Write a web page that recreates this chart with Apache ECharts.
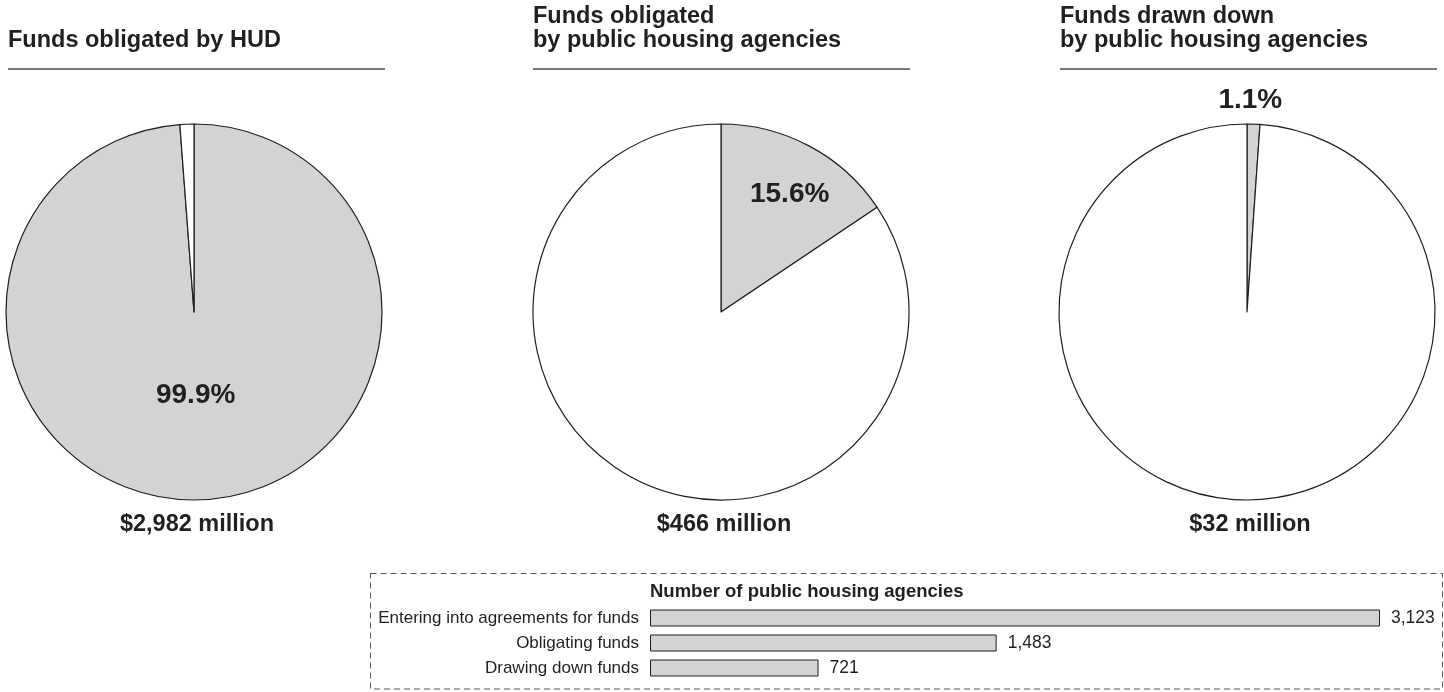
<!DOCTYPE html>
<html>
<head>
<meta charset="utf-8">
<script src="https://cdn.jsdelivr.net/npm/echarts@6/dist/echarts.min.js"></script>
<style>
html,body{margin:0;padding:0;background:#fff;}
#chart{width:1444px;height:692px;}
</style>
</head>
<body>
<div id="chart"></div>
<script>
// ---- data ----
const pieTitles = [
  "Funds obligated by HUD",
  "Funds obligated\nby public housing agencies",
  "Funds drawn down\nby public housing agencies"
];
const pieTotals = ["$2,982 million", "$466 million", "$32 million"];
const pieLabels = ["99.9%", "15.6%", "1.1%"];
// shaded share / unshaded share as drawn (percent)
const pieShaded = [98.8, 15.6, 1.1];
const pieUnshaded = [1.2, 84.4, 98.9];

const barTitle = "Number of public housing agencies";
const barCategories = ["Entering into agreements for funds", "Obligating funds", "Drawing down funds"];
const barValues = [3123, 1483, 721];

// ---- styling ----
const INK = '#231f20';
const GRAY = '#d1d3d4';
const FONT = '"Liberation Sans", Arial, Helvetica, sans-serif';
const centersX = [194, 721, 1247];
const titleX = [8, 533, 1060];
const labelShift = [[-2, -14], [23, -32], [0, -115]];

const chart = echarts.init(document.getElementById('chart'), null, {renderer: 'canvas'});

const series = [];
for (let i = 0; i < 3; i++) {
  series.push({
    type: 'pie',
    center: [centersX[i], 312],
    radius: [0, 188],
    startAngle: 90,
    clockwise: true,
    silent: true,
    animation: false,
    label: {
      show: true, position: 'inside', color: INK,
      fontFamily: FONT, fontWeight: 'bold', fontSize: 28,
      formatter: () => pieLabels[i]
    },
    labelLine: {show: false},
    labelLayout: {dx: labelShift[i][0], dy: labelShift[i][1]},
    itemStyle: {borderColor: INK, borderWidth: 1.2},
    data: [
      {value: pieShaded[i], itemStyle: {color: GRAY}},
      {value: pieUnshaded[i], itemStyle: {color: '#ffffff'}, label: {show: false}}
    ]
  });
}

series.push({
  type: 'bar',
  xAxisIndex: 0, yAxisIndex: 0,
  barWidth: 17,
  animation: false,
  silent: true,
  itemStyle: {color: GRAY, borderColor: INK, borderWidth: 1},
  label: {
    show: true, position: 'right', distance: 11, color: INK,
    fontFamily: FONT, fontSize: 17.5,
    formatter: p => p.value.toLocaleString('en-US')
  },
  data: barValues
});

const graphics = [];
for (let i = 0; i < 3; i++) {
  graphics.push({
    type: 'text', left: titleX[i], top: i === 0 ? 29 : 5, silent: true,
    style: {text: pieTitles[i], fill: INK, font: 'bold 23.5px ' + FONT, lineHeight: 23.5}
  });
  graphics.push({
    type: 'line', silent: true,
    shape: {x1: titleX[i], y1: 69, x2: titleX[i] + 377, y2: 69},
    style: {stroke: '#4d4d4d', lineWidth: 1.3}
  });
  graphics.push({
    type: 'text', silent: true, x: centersX[i] + 3, y: 525,
    style: {text: pieTotals[i], fill: INK, font: 'bold 23.5px ' + FONT, textAlign: 'center', textVerticalAlign: 'middle'}
  });
}
graphics.push({
  type: 'rect', silent: true,
  shape: {x: 370.5, y: 573.5, width: 1072, height: 115.5},
  style: {fill: 'none', stroke: '#555', lineWidth: 1, lineDash: [6, 4]}
});
graphics.push({
  type: 'text', silent: true, x: 650, y: 592,
  style: {text: barTitle, fill: INK, font: 'bold 18.5px ' + FONT, textVerticalAlign: 'middle'}
});

chart.setOption({
  backgroundColor: '#ffffff',
  animation: false,
  grid: {left: 650, top: 605.5, width: 730, height: 75, containLabel: false},
  xAxis: {type: 'value', min: 0, max: 3123, show: false},
  yAxis: {
    type: 'category', inverse: true, data: barCategories,
    axisLine: {show: false}, axisTick: {show: false},
    axisLabel: {color: INK, fontFamily: FONT, fontSize: 17, margin: 11}
  },
  graphic: graphics,
  series: series
});
</script>
</body>
</html>
